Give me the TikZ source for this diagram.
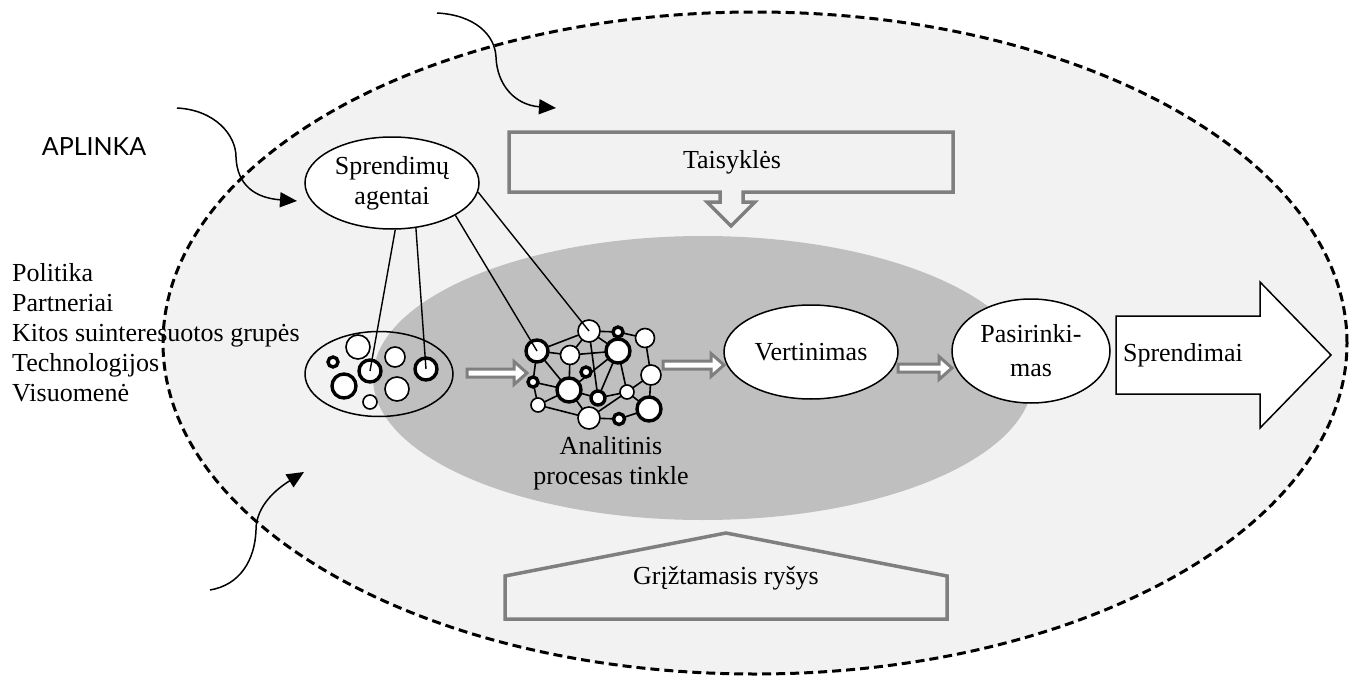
\documentclass[tikz,border=0pt]{standalone}
\usepackage{fontspec}
\setmainfont{Liberation Serif}
\newfontfamily\envfont{Lato}
\usetikzlibrary{shapes.geometric,arrows.meta}
\pgfdeclarelayer{bg}
\pgfdeclarelayer{wires}
\pgfsetlayers{bg,wires,main}
\definecolor{envfill}{HTML}{F2F2F2}
\definecolor{procfill}{HTML}{BFBFBF}
\definecolor{framegray}{HTML}{7F7F7F}
\tikzset{
  lbl/.style={font=\fontsize{26}{30}\selectfont, align=center, inner sep=0pt},
  actor/.style={ellipse, draw, line width=1.5pt, fill=white, inner sep=0pt,
    font=\fontsize{26}{30}\selectfont, align=center},
  bub/.style={circle, draw, fill=white, inner sep=0pt, minimum size=#1, line width=1.6pt},
  hbub/.style={circle, draw, fill=white, inner sep=0pt, minimum size=#1, line width=3.4pt},
  link/.style={line width=1.6pt},
  tie/.style={line width=1.4pt},
  flowline/.style={draw=framegray, fill=white, line width=3pt, line join=miter},
  influence/.style={line width=1.5pt, -{Triangle[length=17pt,width=15pt]}},
  board/.style={draw=framegray, line width=3.5pt, fill=envfill, line join=miter},
}
% hollow block arrow: tail x, tip x, axis y
\newcommand\hollowarrow[3]{%
  \draw[flowline] ({#1},{#3-4}) -- ({#2-13},{#3-4}) -- ({#2-13},{#3-11.5}) -- ({#2},{#3})
    -- ({#2-13},{#3+11.5}) -- ({#2-13},{#3+4}) -- ({#1},{#3+4}) -- cycle;}
\begin{document}
\begin{tikzpicture}[x=1pt,y=-1pt]
\useasboundingbox (0,0) rectangle (1350,677);

% environment boundary and processing area
\begin{pgfonlayer}{bg}
\node[ellipse, draw, fill=envfill, line width=3pt, dash pattern=on 9pt off 5pt,
  minimum width=1184pt, minimum height=662pt, inner sep=0pt] (env) at (755,343) {};
\node[ellipse, fill=procfill, minimum width=660pt, minimum height=284pt, inner sep=0pt] (proc) at (703,378) {};
\end{pgfonlayer}

% influences from the environment
\node[font=\envfont\fontsize{25}{28}\selectfont, inner sep=0pt] (aplinka) at (94,147) {APLINKA};
\coordinate (i1s) at (437,13);  \coordinate (i1e) at (556,108);
\coordinate (i2s) at (177,108); \coordinate (i2e) at (297,201);
\coordinate (i3s) at (210,590); \coordinate (i3e) at (304,472);
\draw[influence] (i1s) .. controls (475,15) and (495,35) .. (496,57)
  .. controls (497,85) and (515,105) .. (i1e);
\draw[influence] (i2s) .. controls (215,110) and (236,135) .. (236,157)
  .. controls (237,185) and (255,198) .. (i2e);
\draw[influence] (i3s) .. controls (240,585) and (255,560) .. (256,530)
  .. controls (256,505) and (278,488) .. (i3e);

\node[lbl, align=left, anchor=west] (factors) at (12,333)
  {Politika\\Partneriai\\Kitos suinteresuotos grupės\\Technologijos\\Visuomenė};

% rules and feedback
\draw[board] (509,132) -- (953,132) -- (953,192) -- (743,192) -- (743,202) -- (755,202)
  -- (731,226) -- (707,202) -- (720,202) -- (720,192) -- (509,192) -- cycle;
\node[lbl] (rules) at (732,162) {Taisyklės};
\draw[board] (505,619) -- (505,576) -- (726,533) -- (947,576) -- (947,619) -- cycle;
\node[lbl] (feedback) at (726,578) {Grįžtamasis ryšys};

% decision agents
\node[actor, minimum width=174pt, minimum height=92pt] (agents) at (392,183) {Sprendimų\\agentai};

% pool of ideas
\node[ellipse, draw, line width=1.5pt, minimum width=148pt, minimum height=85pt, inner sep=0pt] (pool) at (379,374) {};
\node[bub=24pt]  (p1) at (358,347) {};
\node[hbub=10pt] (p2) at (333,362) {};
\node[hbub=22pt] (p3) at (370,371) {};
\node[bub=20pt]  (p4) at (395,357) {};
\node[hbub=22pt] (p5) at (426,369) {};
\node[hbub=24pt] (p6) at (344,386) {};
\node[bub=24pt]  (p7) at (397,389) {};
\node[bub=14pt]  (p8) at (370,402) {};

% analytic network
\node[hbub=22pt] (nA) at (537,351) {};
\node[bub=22pt]  (nB) at (589,331) {};
\node[hbub=10pt] (nC) at (618,332) {};
\node[bub=19pt]  (nD) at (645,338) {};
\node[bub=19pt]  (nE) at (570,355) {};
\node[hbub=24pt] (nF) at (618,351) {};
\node[hbub=10pt] (nG) at (586,372) {};
\node[hbub=10pt] (nH) at (533,382) {};
\node[bub=20pt]  (nI) at (651,375) {};
\node[hbub=24pt] (nJ) at (569,390) {};
\node[hbub=14pt] (nK) at (598,398) {};
\node[bub=14pt]  (nL) at (627,392) {};
\node[bub=14pt]  (nM) at (538,405) {};
\node[bub=22pt]  (nN) at (589,418) {};
\node[hbub=11pt] (nO) at (619,419) {};
\node[hbub=24pt] (nP) at (649,409) {};
\begin{pgfonlayer}{wires}
\foreach \a/\b in {A/B,A/E,A/J,A/H,B/C,C/D,B/E,B/K,B/F,E/F,E/J,F/K,F/L,J/F,D/I,I/L,I/P,L/P,K/L,J/K,H/J,H/M,M/J,M/N,J/N,N/L,N/O,O/P}
  \draw[link] (n\a.center) -- (n\b.center);
\end{pgfonlayer}
\node[lbl] (analysis) at (611,463) {Analitinis\\procesas tinkle};

% agents linked to ideas and to the network
\draw[tie] (agents.-86) -- (p3.center);
\draw[tie] (agents.-62) -- (p5.center);
\draw[tie] (agents.-27) -- (nA.center);
\draw[tie] (agents.-6) -- (nB.center);

% evaluation chain
\node[actor, minimum width=174pt, minimum height=94pt] (eval) at (811,352) {Vertinimas};
\node[actor, minimum width=158pt, minimum height=104pt, font=\fontsize{26}{34}\selectfont] (choice) at (1031,351) {Pasirinki-\\mas};
\hollowarrow{467}{527}{373}
\hollowarrow{663}{724}{365}
\hollowarrow{898}{952}{368}

% resulting decisions
\draw[line width=1.5pt, fill=white, line join=miter] (1116,316) -- (1260,316) -- (1260,282)
  -- (1331,355) -- (1260,428) -- (1260,394) -- (1116,394) -- cycle;
\node[lbl] (decisions) at (1183,355) {Sprendimai};
\end{tikzpicture}
\end{document}
